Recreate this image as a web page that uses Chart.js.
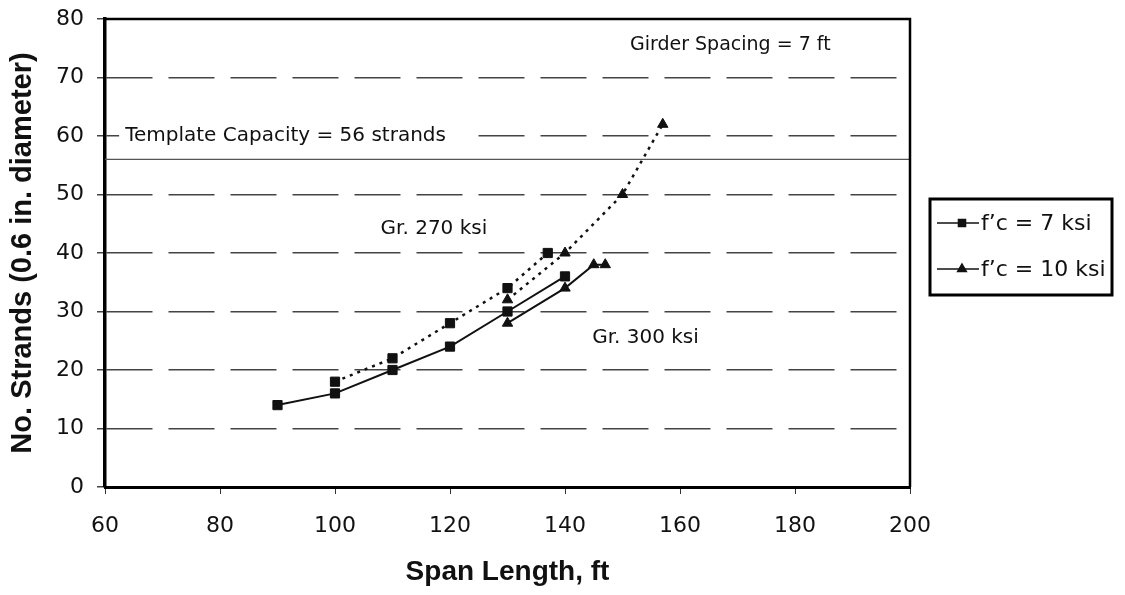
<!DOCTYPE html>
<html>
<head>
<meta charset="utf-8">
<script src="https://cdn.jsdelivr.net/npm/chart.js@4"></script>
<style>
  html, body { margin: 0; padding: 0; background: #fff; }
  #wrap { width: 1125px; height: 595px; }
</style>
</head>
<body>
<div id="wrap"><canvas id="chart" width="1125" height="595"></canvas></div>
<script>
// span (ft) and strand counts
var span7_300 = [90, 100, 110, 120, 130, 140];
var str7_300 = [14, 16, 20, 24, 30, 36];
var span7_270 = [100, 110, 120, 130, 137];
var str7_270 = [18, 22, 28, 34, 40];
var span10_300 = [130, 140, 145, 147];
var str10_300 = [28, 34, 38, 38];
var span10_270 = [130, 140, 150, 157];
var str10_270 = [32, 40, 50, 62];

var templateCapacity = 56;
var xTicks = [60, 80, 100, 120, 140, 160, 180, 200];
var yTicks = [0, 10, 20, 30, 40, 50, 60, 70, 80];
var legendLabels = ["f\u2019c = 7 ksi", "f\u2019c = 10 ksi"];

// text notes placed in data units
var notes = [
  { text: "Girder Spacing = 7 ft", x: 151.3, y: 75.6, align: "left", size: 19, blank: false },
  { text: "Template Capacity = 56 strands", x: 63.5, y: 60, align: "left", size: 20, blank: true },
  { text: "Gr. 270 ksi", x: 117.2, y: 44.1, align: "center", size: 20, blank: false },
  { text: "Gr. 300 ksi", x: 154, y: 25.5, align: "center", size: 20, blank: false },
];

function pts(xs, ys) {
  return xs.map(function (x, i) { return { x: x, y: ys[i] }; });
}

var FONT = "'Liberation Sans', Arial, sans-serif";
var WIDE = "'DejaVu Sans', sans-serif";

function series(xs, ys, style, dotted) {
  return {
    data: pts(xs, ys),
    borderColor: "#111",
    backgroundColor: "#111",
    borderWidth: dotted ? 2.5 : 2,
    borderDash: dotted ? [3, 5] : [],
    pointStyle: style,
    pointRadius: style === "rect" ? 6.5 : 6,
    pointBackgroundColor: "#111",
    pointBorderColor: "#111",
    pointBorderWidth: 1,
    tension: 0,
    fill: false,
  };
}

var frameAndNotes = {
  id: "frameAndNotes",
  afterDraw: function (chart) {
    var ctx = chart.ctx, a = chart.chartArea;
    var xs = chart.scales.x, ys = chart.scales.y;
    ctx.save();
    // top and right edges of the plot box
    ctx.strokeStyle = "#000";
    ctx.lineWidth = 2.5;
    ctx.beginPath();
    ctx.moveTo(a.left, a.top);
    ctx.lineTo(a.right, a.top);
    ctx.lineTo(a.right, a.bottom);
    ctx.stroke();

    ctx.textBaseline = "middle";
    notes.forEach(function (n) {
      ctx.font = n.size + "px " + WIDE;
      ctx.textAlign = n.align;
      var px = xs.getPixelForValue(n.x), py = ys.getPixelForValue(n.y);
      if (n.blank) {
        var w = ctx.measureText(n.text).width;
        var x0 = n.align === "center" ? px - w / 2 : px;
        ctx.fillStyle = "#fff";
        ctx.fillRect(x0 - 6, py - 12, w + 30, 24);
      }
      ctx.fillStyle = "#111";
      ctx.fillText(n.text, px, py);
    });

    // legend box
    var bx = 930, by = 199, bw = 182, bh = 96;
    ctx.fillStyle = "#fff";
    ctx.fillRect(bx, by, bw, bh);
    ctx.lineWidth = 3;
    ctx.strokeStyle = "#000";
    ctx.strokeRect(bx, by, bw, bh);
    var styles = ["rect", "triangle"];
    legendLabels.forEach(function (lab, i) {
      var ly = by + 24 + i * 46;
      ctx.lineWidth = 1.5;
      ctx.strokeStyle = "#111";
      ctx.beginPath();
      ctx.moveTo(bx + 7, ly);
      ctx.lineTo(bx + 49, ly);
      ctx.stroke();
      ctx.fillStyle = "#111";
      Chart.helpers.drawPoint(ctx, { pointStyle: styles[i], radius: 5, borderWidth: 1 }, bx + 32, ly);
      ctx.font = "22px " + WIDE;
      ctx.textAlign = "left";
      ctx.fillText(lab, bx + 51, ly + 1);
    });
    ctx.restore();
  },
};

new Chart(document.getElementById("chart"), {
  type: "line",
  data: {
    datasets: [
      series(span7_300, str7_300, "rect", false),
      series(span7_270, str7_270, "rect", true),
      series(span10_300, str10_300, "triangle", false),
      series(span10_270, str10_270, "triangle", true),
      {
        data: [{ x: xTicks[0], y: templateCapacity }, { x: xTicks[xTicks.length - 1], y: templateCapacity }],
        borderColor: "#555",
        borderWidth: 1.2,
        pointRadius: 0,
        fill: false,
      },
    ],
  },
  options: {
    responsive: false,
    animation: false,
    layout: { padding: { top: 19, right: 215, bottom: 0, left: 0 } },
    plugins: {
      legend: { display: false },
      tooltip: { enabled: false },
    },
    scales: {
      x: {
        type: "linear",
        min: 60, max: 200,
        afterBuildTicks: function (s) { s.ticks = xTicks.map(function (v) { return { value: v }; }); },
        afterFit: function (s) { s.height = 108; },
        border: { color: "#000", width: 3 },
        grid: { drawOnChartArea: false, tickLength: 7, color: "#333", lineWidth: 1 },
        ticks: { color: "#111", font: { family: WIDE, size: 22 }, padding: 19 },
        title: {
          display: true, text: "Span Length, ft", color: "#111",
          font: { family: FONT, size: 28, weight: "bold" }, padding: { top: 0, bottom: 6 },
        },
      },
      y: {
        min: 0, max: 80,
        afterBuildTicks: function (s) { s.ticks = yTicks.map(function (v) { return { value: v }; }); },
        afterFit: function (s) { s.width = 105; s.paddingTop = 0; s.paddingBottom = 0; },
        border: { color: "#000", width: 3.5, dash: [46, 16] },
        grid: {
          color: "#444", lineWidth: 1.5, tickLength: 8, tickBorderDash: [],
        },
        ticks: { color: "#111", font: { family: WIDE, size: 22 }, padding: 13 },
        title: {
          display: true, text: "No. Strands (0.6 in. diameter)", color: "#111",
          font: { family: FONT, size: 29, weight: "bold" }, padding: { top: 6, bottom: 4 },
        },
      },
    },
  },
  plugins: [frameAndNotes],
});
</script>
</body>
</html>
